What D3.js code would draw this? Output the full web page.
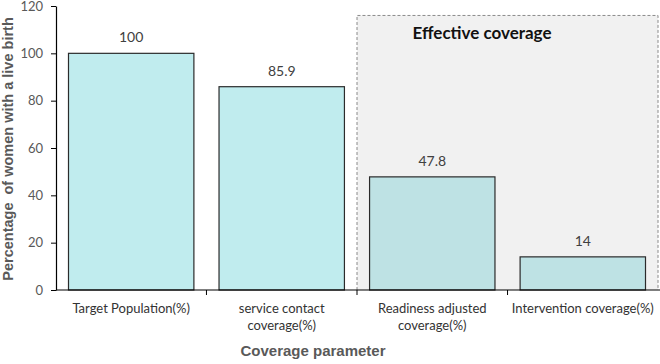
<!DOCTYPE html>
<html>
<head>
<meta charset="utf-8">
<script src="https://cdn.jsdelivr.net/npm/d3@7.9.0/dist/d3.min.js"></script>
<style>
  body { margin: 0; background: #fff; }
  svg { display: block; }
</style>
</head>
<body>
<div id="chart"></div>
<script>
const categories = [
  ['Target Population(%)'],
  ['service contact', 'coverage(%)'],
  ['Readiness adjusted', 'coverage(%)'],
  ['Intervention coverage(%)'],
];
const values = [100, 85.9, 47.8, 14];
const yTicks = [0, 20, 40, 60, 80, 100, 120];
const effectiveFrom = 2; // index of first bar in the "Effective coverage" box

const width = 660;
const height = 364;
const margin = { top: 6, right: 2, bottom: 74, left: 56 };

const svg = d3
  .select('#chart')
  .append('svg')
  .attr('width', width)
  .attr('height', height);

const x = d3
  .scaleBand()
  .domain(d3.range(values.length))
  .range([margin.left, width - margin.right])
  .paddingInner(0.167)
  .paddingOuter(0.083);

const y = d3
  .scaleLinear()
  .domain([0, 120])
  .range([height - margin.bottom, margin.top]);

// grey "Effective coverage" panel
const boxLeft = x(effectiveFrom) - (x.step() * x.paddingInner()) / 2;
const boxRight = width - margin.right;
const boxTop = y(116);
svg
  .append('rect')
  .attr('x', boxLeft)
  .attr('y', boxTop)
  .attr('width', boxRight - boxLeft)
  .attr('height', y(0) - boxTop)
  .attr('fill', '#f1f1f1');

svg
  .append('path')
  .attr('d', `M${boxLeft},${y(0)}V${boxTop}H${boxRight}V${y(0)}`)
  .attr('fill', 'none')
  .attr('stroke', '#8a8a8a')
  .attr('stroke-width', 1)
  .attr('stroke-dasharray', '3,2');

svg
  .append('text')
  .attr('x', 482)
  .attr('y', 39)
  .attr('text-anchor', 'middle')
  .attr('font-family', 'Lato, "Open Sans", sans-serif')
  .attr('font-weight', 'bold')
  .attr('font-size', 17)
  .attr('fill', '#111')
  .text('Effective coverage');

// bars
svg
  .append('g')
  .selectAll('rect')
  .data(values)
  .join('rect')
  .attr('x', (d, i) => x(i))
  .attr('y', (d) => y(d))
  .attr('width', x.bandwidth())
  .attr('height', (d) => y(0) - y(d))
  .attr('fill', (d, i) => (i >= effectiveFrom ? '#bee2e4' : '#c0ecee'))
  .attr('stroke', '#2b2b2b')
  .attr('stroke-width', 1.2);

// value labels
svg
  .append('g')
  .selectAll('text')
  .data(values)
  .join('text')
  .attr('x', (d, i) => x(i) + x.bandwidth() / 2)
  .attr('y', (d) => y(d) - 11)
  .attr('text-anchor', 'middle')
  .attr('font-family', 'Lato, "Open Sans", sans-serif')
  .attr('font-size', 14)
  .attr('fill', '#404040')
  .text((d) => d);

// y axis
const yAxis = svg
  .append('g')
  .attr('transform', `translate(${margin.left},0)`)
  .call(d3.axisLeft(y).tickValues(yTicks).tickSize(5).tickSizeOuter(0));
yAxis.select('.domain').attr('stroke', '#000').attr('stroke-width', 1.2);
yAxis.selectAll('.tick line').attr('stroke', '#000');
yAxis
  .selectAll('.tick text')
  .attr('x', -13)
  .attr('font-family', 'Lato, "Open Sans", sans-serif')
  .attr('font-size', 13)
  .attr('fill', '#595959');

// x axis baseline with ticks between categories
const xAxis = svg.append('g');
xAxis
  .append('line')
  .attr('x1', margin.left)
  .attr('x2', width)
  .attr('y1', y(0))
  .attr('y2', y(0))
  .attr('stroke', '#000')
  .attr('stroke-width', 1.2);
xAxis
  .selectAll('.xtick')
  .data(d3.range(1, values.length))
  .join('line')
  .attr('x1', (i) => x(i) - (x.step() * x.paddingInner()) / 2)
  .attr('x2', (i) => x(i) - (x.step() * x.paddingInner()) / 2)
  .attr('y1', y(0))
  .attr('y2', y(0) + 5)
  .attr('stroke', '#000');

// category labels
const catLabels = svg
  .append('g')
  .selectAll('text')
  .data(categories)
  .join('text')
  .attr('x', (d, i) => x(i) + x.bandwidth() / 2)
  .attr('y', 313)
  .attr('text-anchor', 'middle')
  .attr('font-family', 'Lato, "Open Sans", sans-serif')
  .attr('font-size', 13)
  .attr('fill', '#333');
catLabels
  .selectAll('tspan')
  .data((d) => d)
  .join('tspan')
  .attr('x', function () {
    return d3.select(this.parentNode).attr('x');
  })
  .attr('dy', (d, j) => (j === 0 ? 0 : 17))
  .text((d) => d);

// axis titles
svg
  .append('text')
  .attr('x', 313)
  .attr('y', 356)
  .attr('text-anchor', 'middle')
  .attr('font-family', '"Liberation Sans", Arial, sans-serif')
  .attr('font-weight', 'bold')
  .attr('font-size', 15)
  .attr('fill', '#595959')
  .text('Coverage parameter');

svg
  .append('text')
  .attr('transform', `translate(13, 149) rotate(-90)`)
  .attr('text-anchor', 'middle')
  .attr('font-family', '"Liberation Sans", Arial, sans-serif')
  .attr('font-weight', 'bold')
  .attr('font-size', 14.5)
  .attr('fill', '#595959')
  .attr('xml:space', 'preserve')
  .text('Percentage  of women with a live birth');
</script>
</body>
</html>
